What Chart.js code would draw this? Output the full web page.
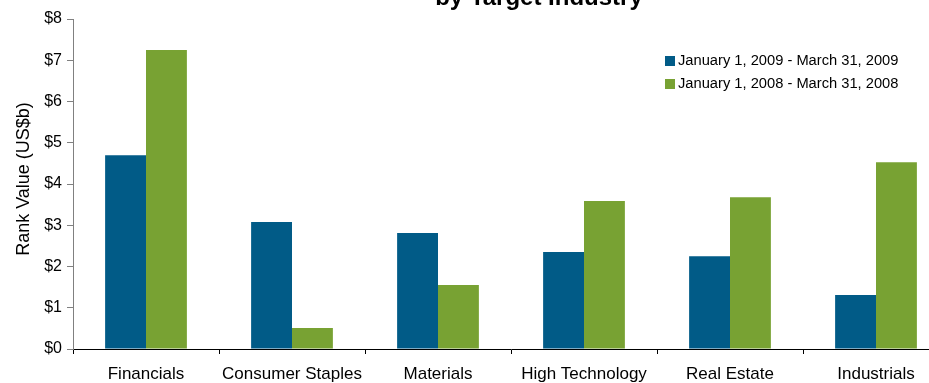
<!DOCTYPE html>
<html>
<head>
<meta charset="utf-8">
<script src="https://cdn.jsdelivr.net/npm/chart.js@4"></script>
<style>
html,body{margin:0;padding:0;background:#fff;overflow:hidden;width:929px;height:383px;}
canvas{display:block;}
</style>
</head>
<body>
<canvas id="c" width="950" height="383"></canvas>
<script>
const categories = ["Financials", "Consumer Staples", "Materials", "High Technology", "Real Estate", "Industrials"];
const series2009 = [4.70, 3.08, 2.81, 2.35, 2.25, 1.31];
const series2008 = [7.25, 0.51, 1.55, 3.59, 3.68, 4.53];
const seriesNames = ["January 1, 2009 - March 31, 2009", "January 1, 2008 - March 31, 2008"];
const titleText = "by Target Industry";
const yAxisTitle = "Rank Value (US$b)";
const colors = ["#015B87", "#78A233"];
const FONT = "'Liberation Sans', Arial, sans-serif";

const overlayPlugin = {
  id: 'overlay',
  afterDraw(chart) {
    const ctx = chart.ctx;
    ctx.save();
    ctx.fillStyle = '#000';
    ctx.font = "bold 24px " + FONT;
    ctx.textAlign = 'center';
    ctx.textBaseline = 'alphabetic';
    ctx.fillText(titleText, 539, 5);
    // y axis title
    ctx.save();
    ctx.translate(24, 179);
    ctx.rotate(-Math.PI / 2);
    ctx.font = "18px " + FONT;
    ctx.textAlign = 'center';
    ctx.textBaseline = 'middle';
    ctx.fillText(yAxisTitle, 0, 0);
    ctx.restore();
    // legend
    ctx.font = "14.7px " + FONT;
    ctx.textAlign = 'left';
    ctx.textBaseline = 'middle';
    seriesNames.forEach((n, i) => {
      const y = 61 + i * 23;
      ctx.fillStyle = colors[i];
      ctx.fillRect(665, y - 5, 10, 10);
      ctx.fillStyle = '#000';
      ctx.fillText(n, 678, y);
    });
    ctx.restore();
  }
};

new Chart(document.getElementById('c'), {
  type: 'bar',
  data: {
    labels: categories,
    datasets: [
      { label: seriesNames[0], data: series2009, backgroundColor: colors[0], categoryPercentage: 0.56, barPercentage: 1.0 },
      { label: seriesNames[1], data: series2008, backgroundColor: colors[1], categoryPercentage: 0.56, barPercentage: 1.0 }
    ]
  },
  options: {
    responsive: false,
    animation: false,
    layout: { padding: { top: 19, right: 1, left: 0, bottom: 0 } },
    plugins: { legend: { display: false }, title: { display: false }, tooltip: { enabled: false } },
    scales: {
      x: {
        offset: true,
        grid: { offset: true, drawOnChartArea: false, drawTicks: true, tickLength: 5, color: '#000' },
        border: { color: '#000', width: 1 },
        ticks: { color: '#000', font: { family: FONT, size: 17 }, padding: 10, maxRotation: 0, autoSkip: false },
        afterFit(s) { s.height = 34; }
      },
      y: {
        min: 0, max: 8,
        grid: { drawOnChartArea: false, drawTicks: true, tickLength: 6, color: '#808080' },
        border: { color: '#808080', width: 1 },
        ticks: { stepSize: 1, color: '#000', font: { family: FONT, size: 16 }, padding: 5,
          callback: v => '$' + v },
        afterFit(s) { s.width = 73; }
      }
    }
  },
  plugins: [overlayPlugin]
});
</script>
</body>
</html>
